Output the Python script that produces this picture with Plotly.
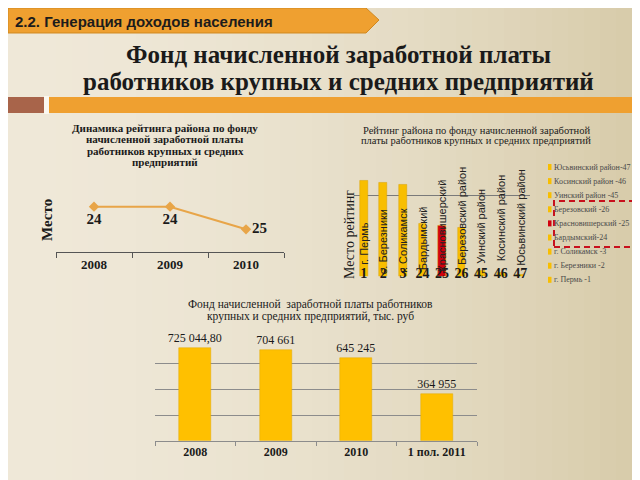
import plotly.graph_objects as go

W, H = 640, 480


def px(x):
    return x / W


def py(y):
    return 1 - y / H


# ---------------- data ----------------
rank_years = ["2008", "2009", "2010"]
rank_values = [24, 24, 25]

district_ranks = ["1", "2", "3", "24", "25", "26", "45", "46", "47"]
district_names = ["г. Пермь", "с. Березники", "г. Соликамск", "Бардымский",
                  "Красновишерский", "Березовский район", "Уинский район",
                  "Косинский район", "Юсьвинский район"]
district_heights = [47, 46, 45, 26, 25, 24, 3, 2, 1]
legend_labels = ["Юсьвинский район-47", "Косинский район -46", "Уинский район -45",
                 "Березовский -26", "Красновишерский -25", "Бардымский-24",
                 "г. Соликамск -3", "г. Березники -2", "г. Пермь -1"]

fund_periods = ["2008", "2009", "2010", "1 пол. 2011"]
fund_values = [725044.80, 704661, 645245, 364955]

# ---------------- styles ----------------
SERIF = "Liberation Serif"
SANS = "Liberation Sans"
YELLOW = "#F8BE00"
RED = "#D2000E"
ORANGE = "#EFA030"
LINE_OR = "#E8A548"
highlight = "Красновишерский"
bar_colors = [RED if n == highlight else YELLOW for n in district_names]
legend_colors = [RED if highlight in l else YELLOW for l in legend_labels]
# vertical centre (in axis units) of the rotated labels inside the middle chart
label_centres = [16, 17, 17.5, 19, 25, 29.5, 24.5, 28.5, 29]

shapes = []
annotations = []

# background gradient (strips)
c0 = (0xEF, 0xE8, 0xD8)
c1 = (0xD6, 0xCA, 0xA8)
n = 40
for i in range(n):
    t = ((i + 0.5) / n) ** 1.8
    col = "rgb(%d,%d,%d)" % tuple(round(a + (b - a) * t) for a, b in zip(c0, c1))
    shapes.append(dict(type="rect", xref="paper", yref="paper", layer="below",
                       x0=px(i * W / n), x1=px((i + 1) * W / n + 1), y0=0, y1=1,
                       fillcolor=col, line=dict(width=0)))

# header banner
shapes.append(dict(type="path", xref="paper", yref="paper", layer="below",
                   path="M 0 %f L %f %f L %f %f L %f %f L 0 %f Z" % (
                       py(0), px(358), py(0), px(371), py(12), px(358), py(25), py(25)),
                   fillcolor=ORANGE, line=dict(color="#D08820", width=1)))
annotations.append(dict(text="<b>2.2. Генерация доходов населения</b>", x=px(5), y=py(13),
                        xref="paper", yref="paper", xanchor="left", yanchor="middle",
                        showarrow=False, font=dict(family=SANS, size=15, color="#1C1C1C")))

# decoration bars
shapes.append(dict(type="rect", xref="paper", yref="paper", layer="below",
                   x0=px(0), x1=px(36), y0=py(105), y1=py(89),
                   fillcolor="#A8644A", line=dict(width=0)))
shapes.append(dict(type="rect", xref="paper", yref="paper", layer="below",
                   x0=px(36), x1=px(41), y0=py(106), y1=py(88),
                   fillcolor="#FBF8F0", line=dict(width=0)))
shapes.append(dict(type="rect", xref="paper", yref="paper", layer="below",
                   x0=px(41), x1=px(640), y0=py(105), y1=py(89),
                   fillcolor=ORANGE, line=dict(width=0)))

# main title
for txt, yy in [("Фонд начисленной заработной платы", 46),
                ("работников крупных и средних предприятий", 73)]:
    annotations.append(dict(text=txt, x=px(330), y=py(yy), xref="paper", yref="paper",
                            xanchor="center", yanchor="middle", showarrow=False,
                            font=dict(family=SERIF, size=25, color="#1A1A1A", weight=700)))


def title_lines(lines, cx, y0, step, size, bold):
    for k, txt in enumerate(lines):
        annotations.append(dict(text=txt, x=px(cx), y=py(y0 + k * step), xref="paper", yref="paper",
                                xanchor="center", yanchor="middle", showarrow=False,
                                font=dict(family=SERIF, size=size, color="#1A1A1A",
                                          weight=700 if bold else 400)))


title_lines(["Динамика рейтинга района по фонду", "начисленной заработной платы",
             "работников крупных и средних", "предприятий"], 157, 120, 11.3, 11, True)
title_lines(["Рейтинг района по фонду начисленной заработной",
             "платы работников крупных и средних предприятий"], 468, 122, 10.5, 10.5, False)
title_lines(["Фонд начисленной  заработной платы работников",
             "крупных и средних предприятий, тыс. руб"], 302, 296, 12, 11.5, False)

fig = go.Figure()

# ---- chart 1: rank dynamics ----
fig.add_trace(go.Scatter(
    x=rank_years, y=rank_values, mode="lines+markers+text",
    texttemplate="<b>%{y}</b>",
    textposition=["bottom center", "bottom center", "middle right"],
    textfont=dict(family=SERIF, size=15, color="#1A1A1A"),
    line=dict(color=LINE_OR, width=2),
    marker=dict(symbol="diamond", size=8, color=LINE_OR),
    cliponaxis=False, showlegend=False, xaxis="x", yaxis="y", hoverinfo="skip"))
annotations.append(dict(text="<b>Место</b>", x=px(39), y=py(212), xref="paper", yref="paper",
                        textangle=-90, xanchor="center", yanchor="middle", showarrow=False,
                        font=dict(family=SERIF, size=15, color="#1A1A1A")))

# ---- chart 2: district rating ----
xpos = list(range(len(district_names)))
fig.add_trace(go.Bar(
    x=xpos, y=district_heights, marker=dict(color=bar_colors, line=dict(color="#D9A000", width=0.5)),
    width=0.4, showlegend=False, xaxis="x2", yaxis="y2", hoverinfo="skip"))
for xi, name, yc in zip(xpos, district_names, label_centres):
    annotations.append(dict(text=name, x=xi, y=yc, xref="x2", yref="y2", textangle=-90,
                            xanchor="center", yanchor="middle", showarrow=False,
                            font=dict(family=SANS, size=11, color="#222222")))
annotations.append(dict(text="Место рейтинг", x=px(341), y=py(227), xref="paper", yref="paper",
                        textangle=-90, xanchor="center", yanchor="middle", showarrow=False,
                        font=dict(family=SERIF, size=14, color="#1A1A1A")))

# manual legend
leg_y0, leg_step = 159, 14.1
for k, (lab, col) in enumerate(zip(legend_labels, legend_colors)):
    yy = leg_y0 + k * leg_step
    shapes.append(dict(type="rect", xref="paper", yref="paper",
                       x0=px(540), x1=px(543.5), y0=py(yy + 3), y1=py(yy - 3),
                       fillcolor=col, line=dict(width=0)))
    annotations.append(dict(text=lab, x=px(544), y=py(yy), xref="paper", yref="paper",
                            xanchor="left", yanchor="middle", showarrow=False,
                            font=dict(family=SERIF, size=8, color="#4A4A4A")))
# dashed highlight box
shapes.append(dict(type="rect", xref="paper", yref="paper",
                   x0=px(546), x1=px(638.5), y0=py(239), y1=py(193),
                   line=dict(color="#C8101C", width=2, dash="6px,4px")))

# ---- chart 3: wage fund ----
fig.add_trace(go.Bar(
    x=fund_periods, y=fund_values,
    texttemplate=["%{y:,.2f}"] + ["%{y:,.0f}"] * (len(fund_values) - 1),
    textposition="outside", cliponaxis=False, constraintext="none",
    textfont=dict(family=SERIF, size=12, color="#1A1A1A"),
    marker=dict(color="#FFC000", line=dict(color="#E3A800", width=0.5)),
    width=0.4, showlegend=False, xaxis="x3", yaxis="y3", hoverinfo="skip"))

GRID = "#8C8C8C"
fig.update_layout(
    width=W, height=H, margin=dict(l=0, r=0, t=0, b=0),
    paper_bgcolor="#EFE8D8", plot_bgcolor="rgba(0,0,0,0)",
    separators=", ",
    shapes=shapes, annotations=annotations, bargap=0,
    xaxis=dict(domain=[px(48), px(276)], anchor="y", type="category", range=[-0.5, 2.5],
               showline=True, linecolor="#555555", linewidth=1,
               ticks="outside", ticklen=5, tickcolor="#555555", tickson="boundaries",
               tickfont=dict(family=SERIF, size=13, color="#1A1A1A", weight="bold"),
               showgrid=False, fixedrange=True),
    yaxis=dict(domain=[py(244), py(176)], anchor="x", range=[26, 23],
               tickvals=[23], showticklabels=False, showgrid=True, gridcolor="#555555",
               zeroline=False, ticks=""),
    xaxis2=dict(domain=[px(346), px(522)], anchor="free", position=py(255), range=[-0.5, 8.5],
                tickvals=xpos, ticktext=district_ranks, ticks="", showline=False,
                showgrid=False, zeroline=False,
                tickfont=dict(family=SERIF, size=14, color="#1A1A1A", weight="bold")),
    yaxis2=dict(domain=[py(268.3), py(146.7)], anchor="x2", range=[0, 60],
                tickvals=[40, 60], showticklabels=False, showgrid=True, gridcolor="#7A7A7A",
                zeroline=False, ticks=""),
    xaxis3=dict(domain=[px(147), px(469)], anchor="y3", type="category",
                showline=True, linecolor=GRID, linewidth=1,
                ticks="outside", ticklen=4, tickcolor=GRID, tickson="boundaries",
                tickfont=dict(family=SERIF, size=12, color="#1A1A1A", weight="bold"),
                showgrid=False),
    yaxis3=dict(domain=[py(432.7), py(330)], anchor="x3", range=[0, 800000], dtick=200000,
                showticklabels=False, showgrid=True, gridcolor=GRID, zeroline=False, ticks=""),
)

fig.write_html("out.html")
